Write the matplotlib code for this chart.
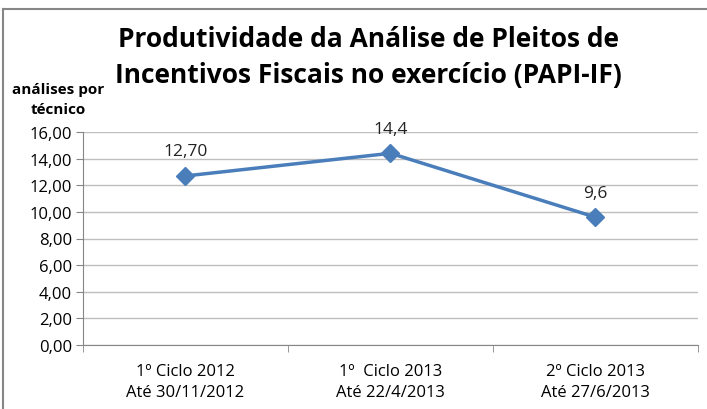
import matplotlib.pyplot as plt
from matplotlib.lines import Line2D

categories = ["1º Ciclo 2012\nAté 30/11/2012", "1º  Ciclo 2013\nAté 22/4/2013", "2º Ciclo 2013\nAté 27/6/2013"]
values = [12.70, 14.4, 9.6]
value_labels = ["12,70", "14,4", "9,6"]
yticks = [0, 2, 4, 6, 8, 10, 12, 14, 16]

plt.rcParams['font.family'] = ['Open Sans', 'DejaVu Sans']

fig = plt.figure(figsize=(7.07, 4.10), dpi=100)
ax = fig.add_axes([83/707, 1 - 346/410, (698 - 83)/707, (346 - 133)/410])

x = list(range(len(values)))
ax.plot(x, values, color='#4A7EBB', lw=2.5, marker='D', markersize=9, zorder=3)
for xi, v, lab in zip(x, values, value_labels):
    ax.annotate(lab, (xi, v), xytext=(0, 12), textcoords='offset points',
                ha='center', va='bottom', fontsize=12.5, color='#222222')

ax.set_xlim(-0.5, len(values) - 0.5)
ax.set_ylim(0, 16)
ax.set_yticks(yticks)
ax.set_yticklabels([f"{t:.2f}".replace('.', ',') for t in yticks], fontsize=12)
ax.set_xticks(x)
ax.set_xticklabels(categories, fontsize=12, linespacing=1.4)
ax.set_xticks([-0.5, 0.5, 1.5, 2.5], minor=True)
ax.tick_params(axis='x', which='major', length=0, pad=13)
ax.tick_params(axis='x', which='minor', length=5, color='#868686')
ax.tick_params(axis='y', length=5, color='#868686', pad=3)
ax.grid(axis='y', color='#BEBEBE', lw=1)
ax.set_axisbelow(True)
for s in ['top', 'right']:
    ax.spines[s].set_visible(False)
for s in ['left', 'bottom']:
    ax.spines[s].set_color('#868686')

fig.text(368/707, 1 - 57.5/410, "Produtividade da Análise de Pleitos de\nIncentivos Fiscais no exercício (PAPI-IF)",
         ha='center', va='center', fontsize=19, fontweight='bold', linespacing=1.45)
fig.text(58/707, 1 - 100/410, "análises por\ntécnico", ha='center', va='center',
         fontsize=11, fontweight='bold', linespacing=1.6)

# outer chart border (left and top)
fig.add_artist(Line2D([3/707, 3/707], [0, 1 - 10/410], color='#868686', lw=1.5))
fig.add_artist(Line2D([3/707, 1], [1 - 10/410, 1 - 10/410], color='#868686', lw=1.5))

fig.savefig("out.png", dpi=100)
